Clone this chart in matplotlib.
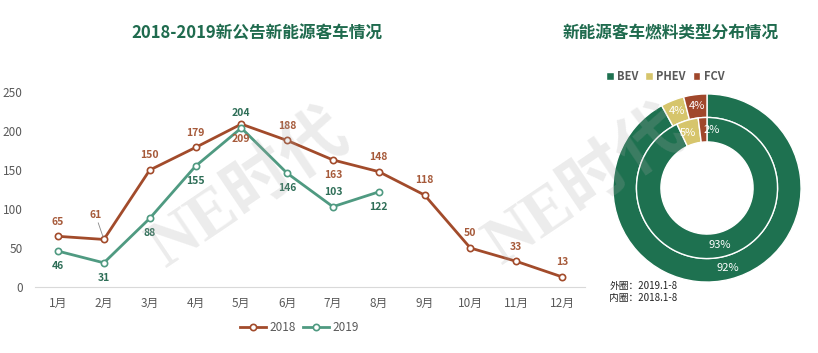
import numpy as np
import matplotlib.pyplot as plt

plt.rcParams['font.family'] = ['Noto Sans CJK SC', 'DejaVu Sans']

months = ['1月', '2月', '3月', '4月', '5月', '6月', '7月', '8月', '9月', '10月', '11月', '12月']
v2018 = [65, 61, 150, 179, 209, 188, 163, 148, 118, 50, 33, 13]
v2019 = [46, 31, 88, 155, 204, 146, 103, 122]
# label side: +1 above, -1 below
pos2018 = [1, 1, 1, 1, -1, 1, -1, 1, 1, 1, 1, 1]
pos2019 = [-1, -1, -1, -1, 1, -1, 1, -1]

fuel = ['BEV', 'PHEV', 'FCV']
outer = [92, 4, 4]   # 2019.1-8
inner = [93, 5, 2]   # 2018.1-8

c18 = '#a24b2b'
c19 = '#4f9a81'
green = '#1e7150'
fuel_colors = [green, '#d6c56c', '#a0472b']
title_c = '#1f6b4e'

fig = plt.figure(figsize=(8.18, 3.53), dpi=100)

ax = fig.add_axes([0.043, 0.187, 0.672, 0.552])
ax.patch.set_alpha(0)
x = np.arange(len(months))
ax.plot(x, v2018, color=c18, lw=2, marker='o', ms=4.5, mfc='white', mec=c18, mew=1.2, label='2018')
ax.plot(x[:len(v2019)], v2019, color=c19, lw=2, marker='o', ms=4.5, mfc='white', mec=c19, mew=1.2, label='2019')

for i, (v, p) in enumerate(zip(v2018, pos2018)):
    if i == 1:
        ax.annotate(str(v), (i, v), xytext=(-6, 14), textcoords='offset points',
                    ha='center', va='bottom', fontsize=7.5, fontweight='bold', color='#a65a3a',
                    arrowprops=dict(arrowstyle='-', color='#888888', lw=0.6, shrinkA=0, shrinkB=2))
        continue
    ax.annotate(str(v), (i, v), xytext=(0, 7 * p), textcoords='offset points',
                ha='center', va='bottom' if p > 0 else 'top', fontsize=7.5,
                fontweight='bold', color='#a65a3a')
for i, (v, p) in enumerate(zip(v2019, pos2019)):
    ax.annotate(str(v), (i, v), xytext=(0, 7 * p), textcoords='offset points',
                ha='center', va='bottom' if p > 0 else 'top', fontsize=7.5,
                fontweight='bold', color='#2e6e57')

ax.set_xlim(-0.5, len(months) - 0.5)
ax.set_ylim(0, 250)
ax.set_yticks(range(0, 251, 50))
ax.set_xticks(x)
ax.set_xticklabels(months)
for s in ['top', 'right', 'left']:
    ax.spines[s].set_visible(False)
ax.spines['bottom'].set_color('#d9d9d9')
ax.tick_params(axis='both', length=0, colors='#595959', labelsize=8.5)
ax.tick_params(axis='y', pad=9)
ax.tick_params(axis='x', pad=7)
ax.legend(loc='upper center', bbox_to_anchor=(0.48, -0.12), ncol=2, frameon=False,
          fontsize=8.5, handlelength=2.2, columnspacing=0.6, handletextpad=0.3,
          labelcolor='#595959')

fig.text(0.314, 0.905, '2018-2019新公告新能源客车情况', ha='center', va='center',
         fontsize=12, fontweight='bold', color=title_c)
fig.text(0.82, 0.905, '新能源客车燃料类型分布情况', ha='center', va='center',
         fontsize=12, fontweight='bold', color=title_c)

# donut
pax = fig.add_axes([707 / 818 - 95 / 818, 1 - 283 / 353, 190 / 818, 190 / 353])
w1, _ = pax.pie(outer, radius=1.0, colors=fuel_colors, startangle=90, counterclock=False,
                wedgeprops=dict(width=0.25, edgecolor='white', linewidth=1))
w2, _ = pax.pie(inner, radius=0.75, colors=fuel_colors, startangle=90, counterclock=False,
                wedgeprops=dict(width=0.26, edgecolor='white', linewidth=1))
pax.set_xlim(-1.01, 1.01)
pax.set_ylim(-1.01, 1.01)
pax.set_aspect('equal')

def ring_labels(vals, r, nudge):
    start = 90
    for v, d in zip(vals, nudge):
        mid = np.deg2rad(start - v / 100 * 360 / 2 + d)
        pax.text(r * np.cos(mid), r * np.sin(mid), f'{v}%', ha='center', va='center',
                 fontsize=8, color='white')
        start -= v / 100 * 360

ring_labels(outer, 0.875, [0, 0, 0])
ring_labels(inner, 0.62, [0, 3, -8])

pax.legend(w1, fuel, loc='lower center', bbox_to_anchor=(0.28, 1.0), ncol=3, frameon=False,
           handlelength=0.7, handleheight=0.7, columnspacing=0.6,
           handletextpad=0.3, labelcolor='#595959', prop={'weight': 'bold', 'size': 8})

fig.text(0.745, 0.19, '外圈：2019.1-8', fontsize=7, color='#222222', va='center')
fig.text(0.745, 0.155, '内圈：2018.1-8', fontsize=7, color='#222222', va='center')

# watermarks, semi-transparent on top
for wx, wy in [(0.305, 0.46), (0.715, 0.47)]:
    fig.text(wx, wy, 'NE时代', fontsize=48, color='#a8a8a8', alpha=0.22, rotation=34,
             ha='center', va='center', family=['Liberation Serif', 'Noto Sans CJK SC'],
             fontweight='bold', zorder=10)

fig.savefig('out.png', dpi=100)
